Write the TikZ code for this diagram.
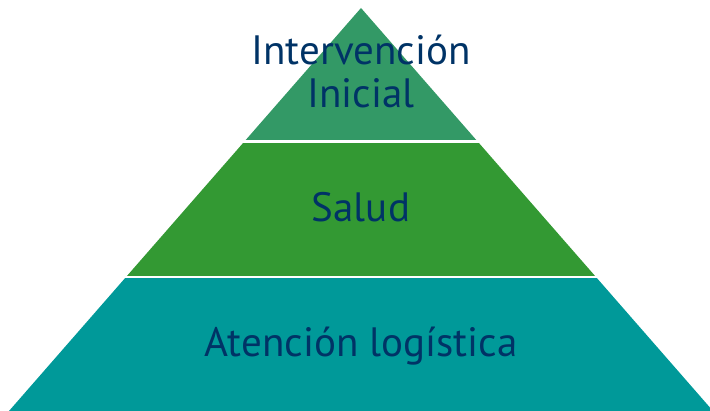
\documentclass[tikz,border=0pt]{standalone}
\usepackage{fontspec}
\setmainfont{PT Sans}

\definecolor{topgreen}{RGB}{51,153,102}
\definecolor{midgreen}{RGB}{51,153,51}
\definecolor{baseteal}{RGB}{0,153,153}
\definecolor{labelblue}{RGB}{0,51,102}

\begin{document}
\begin{tikzpicture}[x=1pt,y=-1pt]
      \tikzstyle{every node}=[text=labelblue,font=\fontsize{41}{43}\selectfont];
        \useasboundingbox (0,0) rectangle (710,411);
        \coordinate (apex) at (361,8);
        \coordinate (baseL) at (9,411);
        \coordinate (baseR) at (713,411);

        \begin{scope}
        \clip (apex) -- (baseL) -- (baseR) -- cycle;
        \path[fill=topgreen] (0,0) rectangle (710,140.5);
        \path[fill=midgreen] (0,143) rectangle (710,276);
        \path[fill=baseteal] (0,278.5) rectangle (710,411);
        \end{scope}

        \path (361,108) node[anchor=base,align=center] (top) {Intervención\\Inicial};
        \path (361,222) node[anchor=base] (mid) {Salud};
        \path (361,357) node[anchor=base] (base) {Atención logística};
    \end{tikzpicture}
\end{document}
